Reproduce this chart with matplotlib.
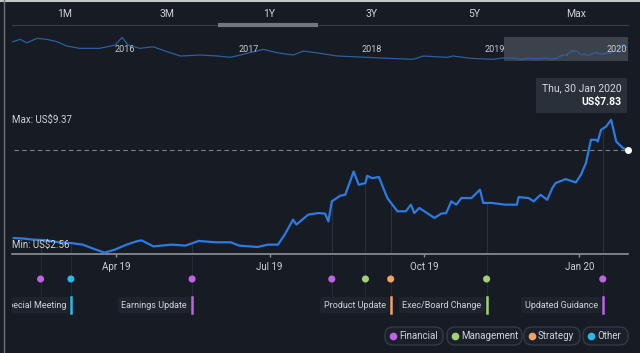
import pandas as pd
import matplotlib.pyplot as plt
import matplotlib.dates as mdates
from matplotlib.patches import Rectangle, FancyBboxPatch
from matplotlib.transforms import offset_copy

plt.rcParams['font.family'] = ['Roboto', 'DejaVu Sans']

# 1Y share price (US$)
dates = ['2019-01-30', '2019-02-05', '2019-02-10', '2019-02-18', '2019-02-26', '2019-03-05',
         '2019-03-12', '2019-03-20', '2019-03-25', '2019-03-31', '2019-04-07', '2019-04-13',
         '2019-04-16', '2019-04-23', '2019-05-04', '2019-05-12', '2019-05-20', '2019-05-30',
         '2019-06-08', '2019-06-13', '2019-06-24', '2019-06-30', '2019-07-06', '2019-07-10',
         '2019-07-15', '2019-07-17', '2019-07-24', '2019-07-30', '2019-08-03', '2019-08-05',
         '2019-08-07', '2019-08-12', '2019-08-15', '2019-08-20', '2019-08-23', '2019-08-27',
         '2019-08-28', '2019-08-31', '2019-09-04', '2019-09-09', '2019-09-15', '2019-09-20',
         '2019-09-23', '2019-09-25', '2019-09-28', '2019-10-07', '2019-10-11', '2019-10-14',
         '2019-10-17', '2019-10-20', '2019-10-23', '2019-10-29', '2019-11-03', '2019-11-05',
         '2019-11-10', '2019-11-18', '2019-11-25', '2019-11-26', '2019-12-02', '2019-12-05',
         '2019-12-09', '2019-12-13', '2019-12-16', '2019-12-18', '2019-12-24', '2019-12-30',
         '2020-01-02', '2020-01-05', '2020-01-08', '2020-01-11', '2020-01-12', '2020-01-14',
         '2020-01-17', '2020-01-20', '2020-01-23', '2020-01-27', '2020-01-30']
prices = [3.31, 3.28, 3.23, 3.20, 3.09, 3.05,
          2.97, 2.71, 2.56, 2.71, 2.97, 3.14,
          3.19, 2.88, 2.97, 2.92, 3.16, 3.09,
          3.09, 2.92, 2.85, 2.97, 2.97, 3.48,
          4.25, 4.00, 4.51, 4.59, 4.56, 4.16,
          5.19, 5.48, 5.53, 6.72, 6.04, 6.13,
          6.50, 6.38, 6.44, 5.36, 4.68, 4.68,
          5.02, 4.59, 4.85, 4.34, 4.56, 4.59,
          5.19, 5.02, 5.36, 5.36, 5.79, 5.11,
          5.11, 5.02, 5.02, 5.41, 5.36, 5.19,
          5.53, 5.27, 5.87, 6.13, 6.33, 6.16,
          6.55, 7.15, 8.35, 8.35, 8.26, 8.86,
          9.03, 9.37, 8.26, 7.92, 7.83]

# older history, only shown in the navigator strip
hist_dates = ['2015-02-01', '2015-02-23', '2015-03-15', '2015-04-14', '2015-05-14', '2015-06-13',
              '2015-07-12', '2015-08-19', '2015-10-18', '2015-12-02', '2015-12-23', '2016-01-10',
              '2016-02-14', '2016-03-24', '2016-05-05', '2016-06-13', '2016-08-11', '2016-10-01',
              '2016-11-08', '2016-12-08', '2017-01-16', '2017-02-14', '2017-03-28', '2017-05-14',
              '2017-06-13', '2017-08-02', '2017-09-22', '2017-11-08', '2018-02-17', '2018-05-05',
              '2018-06-04', '2018-08-14', '2018-09-01', '2018-10-22', '2018-12-28']
hist_prices = [10.39, 11.45, 9.95, 11.89, 11.45, 10.39,
               8.50, 7.49, 7.49, 8.94, 12.33, 8.94,
               7.49, 8.19, 5.99, 4.10, 4.54, 4.10,
               3.53, 4.54, 5.99, 7.05, 5.55, 4.54,
               6.30, 5.29, 4.10, 3.79, 3.09, 2.65,
               4.10, 3.53, 4.10, 3.09, 2.65]

event_dates = ['2019-02-15', '2019-03-05', '2019-05-16', '2019-08-07',
               '2019-08-27', '2019-09-11', '2019-11-07', '2020-01-15']
event_types = ['Financial', 'Other', 'Financial', 'Financial',
               'Management', 'Strategy', 'Management', 'Financial']

label_texts = ['Special Meeting', 'Earnings Update', 'Product Update',
               'Exec/Board Change', 'Updated Guidance']
label_dates = ['2019-03-05', '2019-05-16', '2019-09-11', '2019-11-07', '2020-01-15']
label_types = ['Other', 'Financial', 'Strategy', 'Management', 'Financial']

tabs = ['1M', '3M', '1Y', '3Y', '5Y', 'Max']
legend_types = ['Financial', 'Management', 'Strategy', 'Other']

type_colors = {'Financial': '#bf63e6', 'Management': '#a3cf78',
               'Strategy': '#f2a262', 'Other': '#2fb6e6'}
bg = '#161b24'
txt = '#cfd3d8'
blue = '#2b7be3'

W, H = 640, 353


def box(x0, y0, x1, y1):
    return [x0 / W, 1 - y1 / H, (x1 - x0) / W, (y1 - y0) / H]


def main():
    d = pd.to_datetime(dates)
    hd = pd.to_datetime(hist_dates)
    ed = pd.to_datetime(event_dates)
    ld = pd.to_datetime(label_dates)
    xlim = (pd.Timestamp('2019-01-29'), pd.Timestamp('2020-01-30'))

    fig = plt.figure(figsize=(6.4, 3.53), dpi=100, facecolor=bg)

    # navigator strip
    nav = fig.add_axes(box(12, 37, 628, 61))
    nav.set_facecolor('#1e252e')
    nav.plot(list(hd) + list(d), hist_prices + prices, color='#2d5f9f', lw=0.9)
    nav.axvspan(d[0], pd.Timestamp('2020-02-02'), color='#6c737d', alpha=0.45, lw=0)
    nav.set_xlim(pd.Timestamp('2015-01-30'), pd.Timestamp('2020-02-02'))
    nav.set_ylim(1.9, 12.5)
    for yr in range(2016, 2021):
        nav.text(pd.Timestamp(f'{yr}-01-01'), 0.47, str(yr), transform=nav.get_xaxis_transform(),
                 ha='center', va='center', fontsize=6.5, color='#c9cdd2', zorder=5)
    nav.axis('off')

    # main price chart
    ax = fig.add_axes(box(12, 68, 628, 254))
    ax.set_facecolor(bg)
    ax.plot(d, prices, color=blue, lw=1.6, zorder=3)
    ax.set_xlim(*xlim)
    ax.set_ylim(2.49, 12.03)
    for s in ['top', 'right', 'left']:
        ax.spines[s].set_visible(False)
    ax.spines['bottom'].set_color('#8d9299')
    ax.spines['bottom'].set_linewidth(1.2)
    ax.set_yticks([])
    ax.xaxis.set_major_locator(mdates.MonthLocator(bymonth=[1, 4, 7, 10]))
    ax.xaxis.set_major_formatter(mdates.DateFormatter('%b %y'))
    ax.tick_params(axis='x', colors='#8d9299', labelcolor=txt, labelsize=7, length=2.5,
                   width=1, pad=3.5)

    # faint event lines up to the price
    for e in ed:
        p = float(pd.Series(prices, index=d).reindex(d.union([e])).interpolate('time')[e])
        ax.plot([e, e], [2.49, p], color='#2a313a', lw=0.8, zorder=1)

    last = prices[-1]
    ax.plot([d[0], d[-1]], [last, last], color='#7b8189', lw=0.8, ls=(0, (4, 3)), zorder=2)
    ax.axvline(d[-1], ymax=0.75, color='#5d636b', lw=0.8, ls=(0, (2, 2)), zorder=2)
    ax.plot([d[-1]], [last], 'o', color='white', ms=4, zorder=5, clip_on=False)

    ax.text(0, max(prices), f'Max: US${max(prices):.2f}', transform=ax.get_yaxis_transform(),
            ha='left', va='center', fontsize=7, color=txt)
    ax.text(0, min(prices), f'Min: US${min(prices):.2f}',
            transform=offset_copy(ax.get_yaxis_transform(), fig=fig, y=5.8, units='points'),
            ha='left', va='center', fontsize=7, color=txt, zorder=4)

    # events strip below the axis (y in pixel rows)
    ev = fig.add_axes(box(12, 256, 628, 353))
    ev.patch.set_visible(False)
    ev.set_xlim(*xlim)
    ev.set_ylim(353, 256)
    ev.axis('off')
    for e in ed:
        ev.plot([e, e], [256, 297], color='#242a33', lw=0.8, zorder=1)
    ev.scatter(ed, [279] * len(ed), s=26, c=[type_colors[t] for t in event_types],
               zorder=3, lw=0)
    tr = offset_copy(ev.transData, fig=fig, x=-3.6, y=0, units='points')
    for lab, x, t in zip(label_texts, ld, label_types):
        ev.text(x, 305, lab, transform=tr, ha='right', va='center', fontsize=6.5, color=txt,
                clip_on=True,
                bbox=dict(boxstyle='round,pad=0.4,rounding_size=0.3', fc='#1e242d', ec='none'))
        ev.plot([x, x], [297, 313], color=type_colors[t], lw=1.8, zorder=4)

    # overlay in pixel coordinates: tabs, tooltip, legend, frame
    ov = fig.add_axes([0, 0, 1, 1])
    ov.set_xlim(0, W)
    ov.set_ylim(H, 0)
    ov.axis('off')
    ov.patch.set_visible(False)

    for i, t in enumerate(tabs):
        ov.text(65 + i * 102.2, 14, t, ha='center', va='center', fontsize=7.5, color=txt)
    ov.plot([12, 628], [24.5, 24.5], color='#3a4049', lw=0.8)
    ov.plot([218, 318], [24.5, 24.5], color='#70767e', lw=3, solid_capstyle='butt')

    ov.add_patch(Rectangle((536, 78), 91, 35, color='#2a3039', lw=0))
    ov.text(622, 88, d[-1].strftime('%a, %d %b %Y'), ha='right', va='center',
            fontsize=7.5, color='#d4d7dc')
    ov.text(622, 102, f'US${last:.2f}', ha='right', va='center', fontsize=7.5,
            color='white', fontweight='bold')

    pills = [(385, 443), (447, 522), (524, 580), (583, 628)]
    for (x0, x1), t in zip(pills, legend_types):
        ov.add_patch(FancyBboxPatch((x0, 327), x1 - x0, 18,
                                    boxstyle='round,pad=0,rounding_size=8',
                                    fc='#1a2029', ec='#343b45', lw=1))
        ov.plot([x0 + 8], [336], 'o', color=type_colors[t], ms=4.5)
        ov.text(x0 + 14, 336, t, ha='left', va='center', fontsize=7, color=txt)

    ov.plot([0, W], [0.6, 0.6], color='#c3c6ca', lw=1.5)
    ov.plot([3.5, 3.5], [0, H], color='#6f7378', lw=1)

    fig.savefig('out.png', dpi=100, facecolor=bg)


if __name__ == "__main__":
    main()
